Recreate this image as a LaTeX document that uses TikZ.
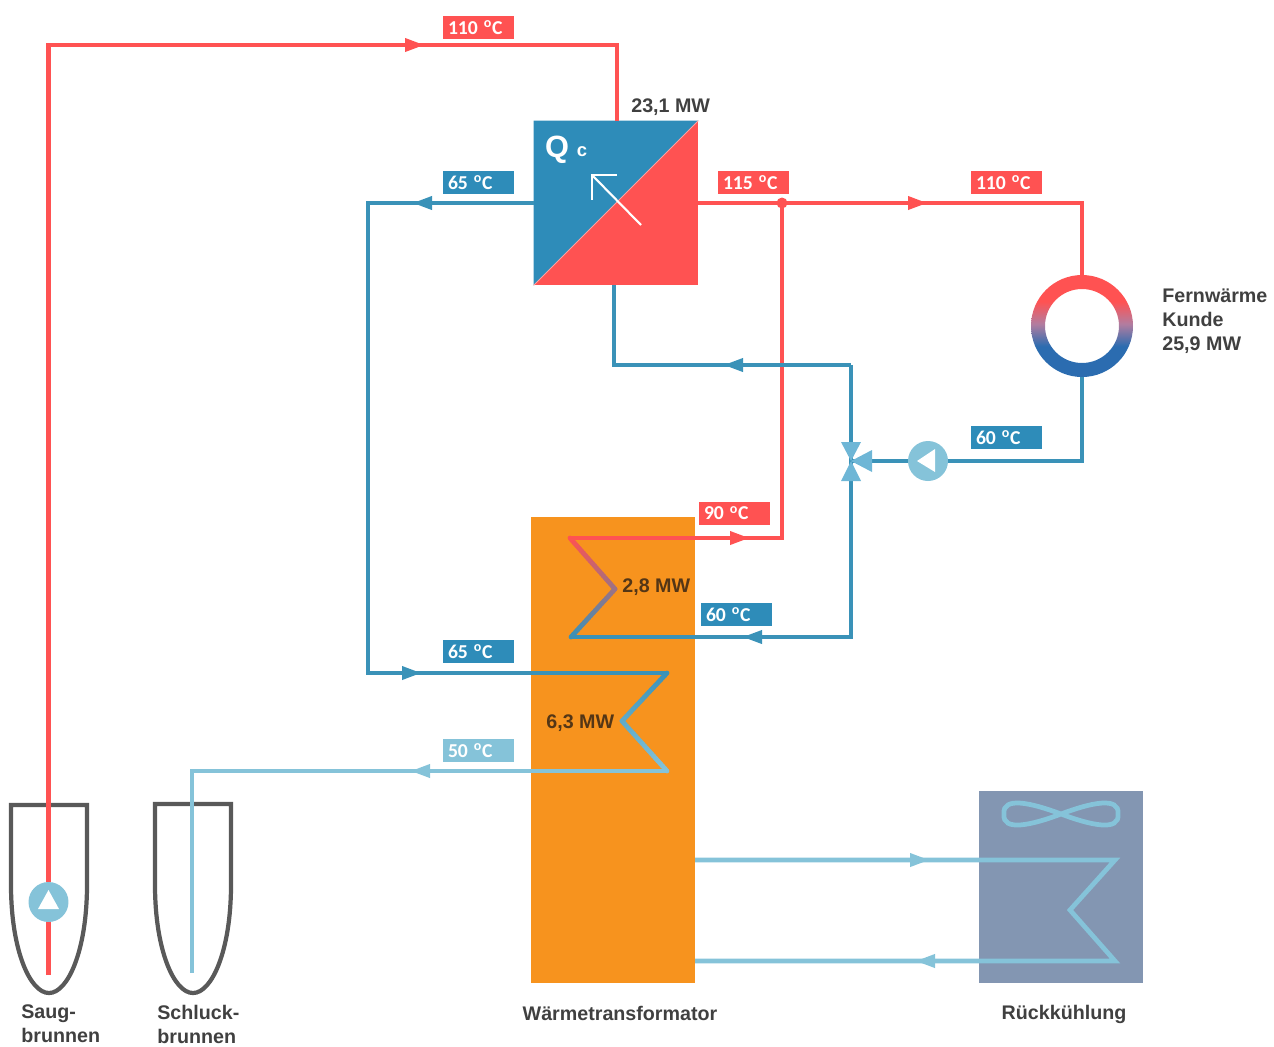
\documentclass[tikz,border=0pt]{standalone}
\usepackage{fontspec}
\setmainfont{Liberation Sans}
\newfontfamily\tagfont{Carlito}
\usetikzlibrary{positioning, arrows.meta, calc}
\definecolor{hot}{RGB}{255,82,82}
\definecolor{cold}{RGB}{58,146,184}
\definecolor{boxblue}{RGB}{46,140,185}
\definecolor{pale}{RGB}{133,195,217}
\definecolor{wellgrey}{RGB}{89,89,89}
\definecolor{inkgrey}{RGB}{64,64,64}
\definecolor{inkbrown}{RGB}{84,54,22}
\definecolor{transorange}{RGB}{247,147,30}
\definecolor{coolgrey}{RGB}{131,150,178}
\definecolor{ringblue}{RGB}{43,108,176}
\definecolor{ringmauve}{RGB}{178,125,160}
\definecolor{valveblue}{RGB}{110,182,214}
\pgfdeclareverticalshading{ringshade}{100bp}{color(0bp)=(ringblue); color(40bp)=(ringblue); color(51bp)=(ringmauve); color(62bp)=(hot); color(100bp)=(hot)}
\newcommand{\degc}[1]{#1\hspace{.3em}\raisebox{.32em}{\footnotesize o}\hspace{.04em}C}
\newcommand{\gradpipe}[4]{\foreach \i [evaluate=\i as \mixa using 100-\i*5, evaluate=\i as \j using \i+1] in {0,...,19}{
  \draw[line width=2.7pt, line cap=round, draw={#3!\mixa!#4}] ($(#1)!\i/20!(#2)$) -- ($(#1)!\j/20!(#2)$);}}

\begin{document}
\begin{tikzpicture}[x=0.02cm, y=-0.02cm,
  pipe/.style={line width=2.7pt, line join=miter},
  H/.style={pipe, hot},
  C/.style={pipe, cold},
  P/.style={pipe, pale},
  flow/.style={-{Triangle[length=0.4cm, width=0.25cm]}},
  tag/.style={minimum width=1.42cm, minimum height=0.46cm, inner xsep=0.1cm, inner ysep=0pt, text width=1.22cm,
    align=left, text=white, font=\tagfont\bfseries\fontsize{11.2}{12}\selectfont},
  hottag/.style={tag, fill=hot},
  coldtag/.style={tag, fill=boxblue},
  paletag/.style={tag, fill=pale},
  caption/.style={font=\bfseries\fontsize{11.2}{13.6}\selectfont, text=inkgrey, inner sep=0pt, align=left},
  well/.style={draw=wellgrey, line width=2.4pt, line join=miter},
  pumpnode/.style={circle, fill=pale, minimum size=0.8cm, inner sep=0pt}]
\useasboundingbox (0,0) rectangle (1274,1046);
% units and apparatus
\node[fill=transorange, minimum width=3.28cm, minimum height=9.32cm, inner sep=0pt] (trans) at (613,750) {};
\node[fill=coolgrey, minimum width=3.28cm, minimum height=3.84cm, inner sep=0pt] (cool) at (1061,887) {};
\node[fill=hot, minimum size=3.28cm, inner sep=0pt] (qbox) at (616,203) {};
\fill[boxblue] (qbox.north west) -- (qbox.north east) -- (qbox.south west) -- cycle;
\draw[hot!55!white, line width=0.5pt] (qbox.north east) -- (qbox.south west);
\draw[well] (11,805) -- (87,805) -- (87,885) .. controls (87,950) and (68,993) .. (49,993) .. controls (30,993) and (11,950) .. (11,885) -- cycle;
\draw[well] (155,804) -- (231,804) -- (231,885) .. controls (231,950) and (212,993) .. (193,993) .. controls (174,993) and (155,950) .. (155,885) -- cycle;
\node[circle, minimum size=2.04cm, inner sep=0pt] (ring) at (1082,326) {};
\shade[even odd rule, shading=ringshade] (ring.center) circle[radius=1.02cm] circle[radius=0.74cm];
\node[pumpnode] (pump1) at (48.5,902) {};
\node[pumpnode] (pump2) at (928,461) {};
\fill[white] (48.5,890) -- (59,909) -- (38,909) -- cycle;
\fill[white] (917,461) -- (935,449) -- (935,472) -- cycle;
\coordinate (valve) at (851,461);
% hot side
\coordinate (s0) at (48.5,975);
\coordinate (s1) at (48.5,45);
\coordinate (s2) at (425,45);
\coordinate (s3) at (617,45);
\coordinate (h1) at (928,203);
\coordinate (h2) at (1082,203);
\coordinate (h3) at (782,203);
\coordinate (h4) at (782,538);
\coordinate (h5) at (750,538);
\coordinate (u1) at (570,538);
\coordinate (u2) at (615,589);
\coordinate (u3) at (571,637);
\draw[H] (s0) -- (pump1);
\draw[H, flow] (pump1) -- (s1) -- (s2);
\draw[H] (s1) -- (s3) -- (s3 |- qbox.north);
\draw[H, flow] (qbox.east) -- (h1);
\draw[H] (qbox.east) -- (h2) -- (ring.north);
\draw[H, flow] (u1) -- (h5);
\draw[H] (u1) -- (h4) -- (h3);
\fill[hot] (h3) circle[radius=0.11cm];
% cold side
\coordinate (c1) at (412,203);
\coordinate (c2) at (368,203);
\coordinate (c3) at (368,673);
\coordinate (c5) at (422,673);
\coordinate (l1) at (667,673);
\coordinate (l2) at (622,721);
\coordinate (l3) at (667,771);
\coordinate (r0) at (614,285);
\coordinate (r1) at (614,365);
\coordinate (r2) at (723,365);
\coordinate (r3) at (851,365);
\coordinate (m1) at (851,637);
\coordinate (m2) at (742,637);
\coordinate (k1) at (1082,461);
\draw[C, flow] (qbox.west) -- (c1);
\draw[C] (qbox.west) -- (c2) -- (c3) -- (l1);
\draw[C, flow] (c3) -- (c5);
\draw[C, flow] (r3) -- (r2);
\draw[C] (r3) -- (r1) -- (r0);
\draw[C] (r3) -- (valve);
\draw[C, flow] (m1) -- (m2);
\draw[C] (valve) -- (m1) -- (u3);
\draw[C] (ring.south) -- (k1) -- (pump2);
\draw[C] (pump2) -- (valve);
\colorlet{coilone}{hot!50!cold}
\colorlet{coiltwo}{cold!50!pale}
\gradpipe{u1}{u2}{hot}{coilone}
\gradpipe{u2}{u3}{coilone}{cold}
\gradpipe{l1}{l2}{cold}{coiltwo}
\gradpipe{l2}{l3}{coiltwo}{pale}
% pale side
\coordinate (d1) at (410,771);
\coordinate (d2) at (192,771);
\coordinate (d3) at (192,973);
\coordinate (f1) at (695,860);
\coordinate (f2) at (930,860);
\coordinate (f3) at (1115,860);
\coordinate (f4) at (1070,910);
\coordinate (f5) at (1115,961);
\coordinate (f6) at (915,961);
\coordinate (f7) at (695,961);
\draw[P, flow] (l3) -- (d1);
\draw[P] (l3) -- (d2) -- (d3);
\draw[P, flow] (f1) -- (f2);
\draw[P] (f1) -- (f3) -- (f4) -- (f5) -- (f7);
\draw[P, flow] (f5) -- (f6);
\draw[P] (1061,814) .. controls (1090,803) and (1120,796) .. (1118,814) .. controls (1120,832) and (1090,825) .. (1061,814)
  .. controls (1032,803) and (1002,796) .. (1004,814) .. controls (1002,832) and (1032,825) .. (1061,814);
% three way valve
\fill[valveblue] (valve) -- (841,442) -- (861,442) -- cycle;
\fill[valveblue] (valve) -- (841,481) -- (861,481) -- cycle;
\fill[valveblue] (valve) -- (872,450) -- (872,472) -- cycle;
% arrow in the Q box
\draw[white, line width=1.2pt] (641,225) -- (592,175);
\draw[white, line width=1.2pt, line join=miter] (617,175) -- (592,175) -- (592,200);
\node[text=white, font=\bfseries\fontsize{17.5}{18}\selectfont, inner sep=0pt] (qsym) at (557,150) {Q};
\node[text=white, font=\bfseries\fontsize{10.5}{11}\selectfont, inner sep=0pt] (qsub) at (582,152) {c};
% temperatures
\node[hottag] (t1) at (478.5,27.5) {\degc{110}};
\node[coldtag] (t2) at (478.5,182.5) {\degc{65}};
\node[hottag] (t3) at (753.5,182.5) {\degc{115}};
\node[hottag] (t4) at (1006.5,182.5) {\degc{110}};
\node[coldtag] (t5) at (1006.5,437.5) {\degc{60}};
\node[hottag] (t6) at (734.5,513) {\degc{90}};
\node[coldtag] (t7) at (736.5,614.5) {\degc{60}};
\node[coldtag] (t8) at (478.5,651.5) {\degc{65}};
\node[paletag] (t9) at (478.5,750.5) {\degc{50}};
% captions
\node[caption, anchor=west] (p1) at (631,107) {23,1 MW};
\node[caption, anchor=west, text=inkbrown] (p2) at (622,587) {2,8 MW};
\node[caption, anchor=west, text=inkbrown] (p3) at (546,723) {6,3 MW};
\node[caption, anchor=west] (kunde) at (1162,321) {Fernwärme\\Kunde\\25,9 MW};
\node[caption, anchor=west] (saug) at (21,1024) {Saug-\\brunnen};
\node[caption, anchor=west] (schluck) at (157,1024) {Schluck-\\brunnen};
\node[caption] (wt) at (620,1013) {Wärmetransformator};
\node[caption] (rk) at (1064,1014) {Rückkühlung};
\end{tikzpicture}
\end{document}
